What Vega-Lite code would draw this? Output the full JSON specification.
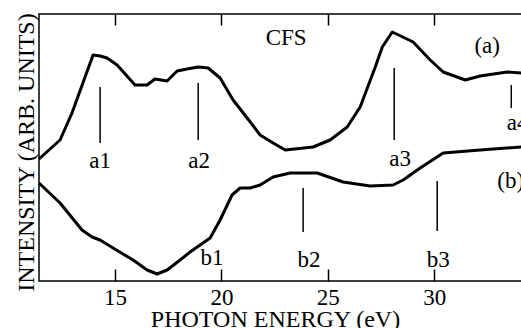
{
  "$schema": "https://vega.github.io/schema/vega-lite/v6.json",
  "width": 491,
  "height": 267,
  "autosize": "none",
  "padding": {"left": 39, "top": 14, "right": 0, "bottom": 47},
  "background": "white",
  "config": {
    "view": {"stroke": "black", "strokeWidth": 1.5},
    "font": "Liberation Serif"
  },
  "datasets": {
    "curves": [
      {"series": "a", "ev": 11.43, "i": 122},
      {"series": "a", "ev": 12.42, "i": 141},
      {"series": "a", "ev": 12.98, "i": 168},
      {"series": "a", "ev": 13.97, "i": 226},
      {"series": "a", "ev": 14.30, "i": 225},
      {"series": "a", "ev": 14.63, "i": 223},
      {"series": "a", "ev": 15.10, "i": 216},
      {"series": "a", "ev": 15.94, "i": 196},
      {"series": "a", "ev": 16.51, "i": 196},
      {"series": "a", "ev": 16.88, "i": 202},
      {"series": "a", "ev": 17.45, "i": 200},
      {"series": "a", "ev": 17.92, "i": 210},
      {"series": "a", "ev": 18.39, "i": 212},
      {"series": "a", "ev": 18.91, "i": 214},
      {"series": "a", "ev": 19.38, "i": 213},
      {"series": "a", "ev": 19.94, "i": 203},
      {"series": "a", "ev": 20.55, "i": 181},
      {"series": "a", "ev": 21.21, "i": 163},
      {"series": "a", "ev": 21.82, "i": 146},
      {"series": "a", "ev": 22.43, "i": 138},
      {"series": "a", "ev": 23.00, "i": 131},
      {"series": "a", "ev": 24.31, "i": 134},
      {"series": "a", "ev": 25.11, "i": 141},
      {"series": "a", "ev": 25.91, "i": 154},
      {"series": "a", "ev": 26.52, "i": 174},
      {"series": "a", "ev": 27.23, "i": 214},
      {"series": "a", "ev": 27.56, "i": 234},
      {"series": "a", "ev": 28.03, "i": 249},
      {"series": "a", "ev": 29.01, "i": 239},
      {"series": "a", "ev": 29.81, "i": 221},
      {"series": "a", "ev": 30.42, "i": 209},
      {"series": "a", "ev": 31.46, "i": 201},
      {"series": "a", "ev": 32.16, "i": 205},
      {"series": "a", "ev": 33.43, "i": 209},
      {"series": "a", "ev": 34.09, "i": 208},
      {"series": "a", "ev": 34.50, "i": 209},
      {"series": "b", "ev": 11.43, "i": 98},
      {"series": "b", "ev": 12.42, "i": 78},
      {"series": "b", "ev": 13.45, "i": 51},
      {"series": "b", "ev": 13.92, "i": 44},
      {"series": "b", "ev": 14.30, "i": 41},
      {"series": "b", "ev": 14.91, "i": 33},
      {"series": "b", "ev": 15.85, "i": 21},
      {"series": "b", "ev": 16.51, "i": 11},
      {"series": "b", "ev": 16.98, "i": 7},
      {"series": "b", "ev": 17.45, "i": 11},
      {"series": "b", "ev": 18.06, "i": 21},
      {"series": "b", "ev": 18.53, "i": 29},
      {"series": "b", "ev": 19.00, "i": 36},
      {"series": "b", "ev": 19.47, "i": 43},
      {"series": "b", "ev": 19.94, "i": 61},
      {"series": "b", "ev": 20.50, "i": 86},
      {"series": "b", "ev": 20.88, "i": 93},
      {"series": "b", "ev": 21.35, "i": 93},
      {"series": "b", "ev": 21.82, "i": 96},
      {"series": "b", "ev": 22.43, "i": 104},
      {"series": "b", "ev": 23.23, "i": 108},
      {"series": "b", "ev": 24.50, "i": 108},
      {"series": "b", "ev": 25.72, "i": 99},
      {"series": "b", "ev": 26.99, "i": 95},
      {"series": "b", "ev": 28.07, "i": 96},
      {"series": "b", "ev": 28.54, "i": 101},
      {"series": "b", "ev": 29.34, "i": 113},
      {"series": "b", "ev": 30.42, "i": 128},
      {"series": "b", "ev": 32.16, "i": 131},
      {"series": "b", "ev": 34.09, "i": 134},
      {"series": "b", "ev": 34.50, "i": 135}
    ],
    "markers": [
      {"name": "a1", "ev": 14.30, "lo": 138, "hi": 194},
      {"name": "a2", "ev": 18.91, "lo": 141, "hi": 198},
      {"name": "a3", "ev": 28.12, "lo": 141, "hi": 213},
      {"name": "a4", "ev": 33.62, "lo": 173, "hi": 196},
      {"name": "b2", "ev": 23.84, "lo": 49, "hi": 93},
      {"name": "b3", "ev": 30.14, "lo": 50, "hi": 100}
    ],
    "labels": [
      {"text": "a1", "ev": 14.30, "i": 113},
      {"text": "a2", "ev": 18.95, "i": 113},
      {"text": "a3", "ev": 28.40, "i": 115},
      {"text": "a4", "ev": 33.92, "i": 151},
      {"text": "b1", "ev": 19.56, "i": 16},
      {"text": "b2", "ev": 24.12, "i": 14},
      {"text": "b3", "ev": 30.19, "i": 14},
      {"text": "(a)", "ev": 32.49, "i": 228},
      {"text": "(b)", "ev": 33.59, "i": 93},
      {"text": "CFS", "ev": 23.04, "i": 236}
    ]
  },
  "layer": [
    {
      "data": {"name": "curves"},
      "mark": {"type": "line", "color": "black", "strokeWidth": 3, "strokeJoin": "round"},
      "encoding": {
        "x": {
          "field": "ev", "type": "quantitative",
          "scale": {"domain": [11.43, 34.5], "nice": false, "zero": false},
          "axis": {
            "orient": "bottom", "values": [15, 20, 25, 30], "grid": false, "domain": false,
            "tickSize": -12, "tickWidth": 1.5, "tickColor": "black",
            "labelFont": "Liberation Serif", "labelFontSize": 23, "labelColor": "black",
            "labelBaseline": "alphabetic", "labelPadding": 35,
            "title": "PHOTON ENERGY (eV)", "titleFont": "Liberation Serif", "titleFontSize": 24,
            "titleFontWeight": "normal", "titleColor": "black", "titleX": 236, "titleY": 45,
            "titleBaseline": "alphabetic"
          }
        },
        "y": {
          "field": "i", "type": "quantitative",
          "scale": {"domain": [0, 267], "nice": false, "zero": false},
          "axis": {
            "orient": "left", "ticks": false, "labels": false, "domain": false, "grid": false,
            "title": "INTENSITY (ARB. UNITS)", "titleFont": "Liberation Serif", "titleFontSize": 24,
            "titleFontWeight": "normal", "titleColor": "black", "titleX": -6, "titleY": 138,
            "titleBaseline": "alphabetic", "titleAngle": 270
          }
        },
        "detail": {"field": "series"}
      }
    },
    {
      "data": {"name": "markers"},
      "mark": {"type": "rule", "color": "black", "strokeWidth": 1.5},
      "encoding": {
        "x": {
          "field": "ev", "type": "quantitative",
          "axis": {
            "orient": "top", "values": [15, 20, 25, 30], "grid": false, "domain": false,
            "labels": false, "tickSize": -11, "tickWidth": 1.5, "tickColor": "black", "title": null
          }
        },
        "y": {"field": "lo", "type": "quantitative", "axis": null},
        "y2": {"field": "hi"}
      }
    },
    {
      "data": {"name": "labels"},
      "mark": {"type": "text", "font": "Liberation Serif", "fontSize": 23, "color": "black", "align": "center", "baseline": "alphabetic"},
      "encoding": {
        "x": {"field": "ev", "type": "quantitative", "axis": null},
        "y": {"field": "i", "type": "quantitative", "axis": null},
        "text": {"field": "text"}
      }
    }
  ],
  "resolve": {"axis": {"x": "independent", "y": "independent"}}
}
